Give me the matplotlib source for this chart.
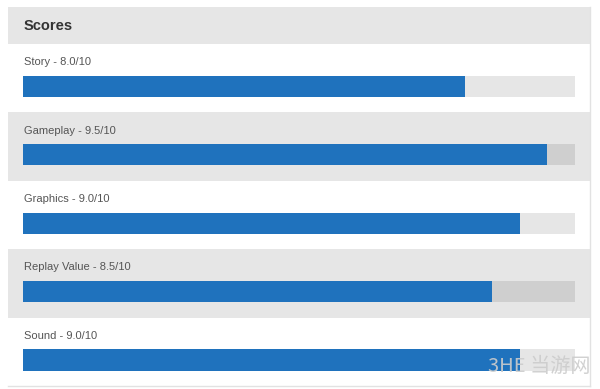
import matplotlib.pyplot as plt
import matplotlib.transforms as mtransforms
from matplotlib.patches import Rectangle

plt.rcParams['font.family'] = ['Arial', 'Liberation Sans', 'DejaVu Sans']

title = "Scores"
categories = ["Story", "Gameplay", "Graphics", "Replay Value", "Sound"]
scores = [8.0, 9.5, 9.0, 8.5, 9.0]
max_score = 10

blue = '#1f72bd'
row_colors = ['#ffffff', '#e6e6e6']
track_colors = ['#e6e6e6', '#cfcfcf']

W, H = 600, 389
fig = plt.figure(figsize=(W / 100, H / 100), dpi=100)
fig.patch.set_facecolor('white')

# panel bounds in pixels (top-down)
px_left, px_right = 8, 590
head_top, head_bot = 7, 44
rows_bot = 386
track_l, track_r = 23, 575

# header band
fig.patches.append(Rectangle((px_left / W, 1 - head_bot / H), (px_right - px_left) / W,
                             (head_bot - head_top) / H, transform=fig.transFigure,
                             facecolor='#e6e6e6', edgecolor='none', zorder=0))
fig.text(24 / W, 1 - 25.5 / H, title, fontsize=10.5, fontweight='bold',
         color='#333333', va='center', ha='left')

ax = fig.add_axes([track_l / W, 1 - rows_bot / H, (track_r - track_l) / W,
                   (rows_bot - head_bot) / H])
ax.set_xlim(0, max_score)
ax.set_ylim(len(categories), 0)
ax.axis('off')
ax.patch.set_alpha(0)

trans = mtransforms.blended_transform_factory(fig.transFigure, ax.transData)
bar_off, bar_h = 0.62, 0.31

for i, (cat, s) in enumerate(zip(categories, scores)):
    ax.add_patch(Rectangle((px_left / W, i), (px_right - px_left) / W, 1, transform=trans,
                           facecolor=row_colors[i % 2], edgecolor='none', zorder=0,
                           clip_on=False))
    ax.barh(i + bar_off, max_score, height=bar_h, color=track_colors[i % 2], zorder=1)
    ax.barh(i + bar_off, s, height=bar_h, color=blue, zorder=2)
    ax.text(0.02, i + 0.265, f"{cat} - {s:.1f}/{max_score}", fontsize=8, color='#555555',
            va='center', ha='left')

# thin panel border
fig.add_artist(plt.Line2D([px_right / W, px_right / W], [1 - rows_bot / H, 1 - head_top / H],
                          transform=fig.transFigure, color='#e2e2e2', lw=1))
fig.add_artist(plt.Line2D([px_left / W, px_right / W], [1 - rows_bot / H, 1 - rows_bot / H],
                          transform=fig.transFigure, color='#e2e2e2', lw=1))

# watermark
fig.text(590 / W, 1 - 367 / H, "3HE 当游网", fontsize=14.5, color='#cccccc',
         ha='right', va='center', family=['Noto Sans CJK SC', 'DejaVu Sans'],
         alpha=0.9)

fig.savefig('out.png', dpi=100)
